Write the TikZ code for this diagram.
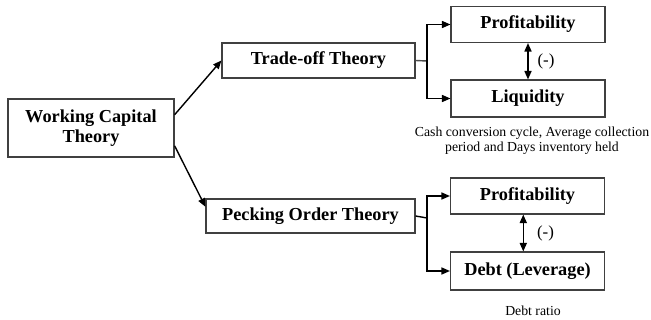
\documentclass[tikz,border=0pt]{standalone}
\usepackage{fontspec}
\setmainfont{Liberation Serif}
\usetikzlibrary{arrows.meta,positioning,calc}

\begin{document}
\begin{tikzpicture}[x=0.025cm,y=-0.025cm,
  theorybox/.style={draw=black!75,line width=0.8pt,align=center,inner sep=2pt,
    font=\fontsize{13}{14.5}\selectfont\bfseries},
  notetext/.style={align=center,font=\fontsize{9.8}{10.7}\selectfont},
  signtext/.style={font=\fontsize{12}{13}\selectfont},
  flow/.style={line width=1pt,-{Triangle[length=6pt,width=5pt]}},
  twoway/.style={line width=1pt,{Triangle[length=6pt,width=5pt]}-{Triangle[length=6pt,width=5pt]}}
]
  \useasboundingbox (0,0) rectangle (651,320);

  % theories
  \node[theorybox,minimum width=4.15cm,minimum height=1.45cm] (wct) at (91,128) {Working Capital\\Theory};
  \node[theorybox,minimum width=4.825cm,minimum height=0.875cm] (trade) at (318.5,60.5) {Trade-off Theory};
  \node[theorybox,minimum width=5.225cm,minimum height=0.85cm] (peck) at (310.5,216) {Pecking Order Theory};

  % variables
  \node[theorybox,minimum width=3.85cm,minimum height=0.9cm] (prof1) at (528,24.5) {Profitability};
  \node[theorybox,minimum width=3.85cm,minimum height=0.925cm] (liq) at (528,98.5) {Liquidity};
  \node[theorybox,minimum width=3.85cm,minimum height=0.9cm] (prof2) at (527.5,196) {Profitability};
  \node[theorybox,minimum width=3.85cm,minimum height=0.95cm] (debt) at (527.5,271) {Debt (Leverage)};

  % notes
  \node[notetext] (liqnote) at (532,140.5) {Cash conversion cycle, Average collection\\period and Days inventory held};
  \node[notetext] (debtnote) at (533,311) {Debt ratio};

  % arrows from the main box
  \draw[flow] (wct.9) -- (trade.west);
  \draw[flow] (wct.-12) -- (peck.175);

  % splits
  \coordinate (tsplit) at (427,61);
  \coordinate (psplit) at (427,218);
  \draw[line width=1pt,black!70] (trade.east) -- (tsplit);
  \draw[flow] (tsplit) |- (prof1.west);
  \draw[flow] (tsplit) |- (liq.west);
  \draw[line width=1pt] (peck.east) -- (psplit);
  \draw[flow] (psplit) |- (prof2.west);
  \draw[flow] (psplit) |- (debt.west);

  % relations
  \draw[twoway] (prof1.south) -- (liq.north) node[signtext,midway,right=3pt] (sign1) {(-)};
  \draw[twoway] ([xshift=-3pt]prof2.south) -- ([xshift=-3pt]debt.north) node[signtext,midway,right=6pt] (sign2) {(-)};
\end{tikzpicture}
\end{document}
